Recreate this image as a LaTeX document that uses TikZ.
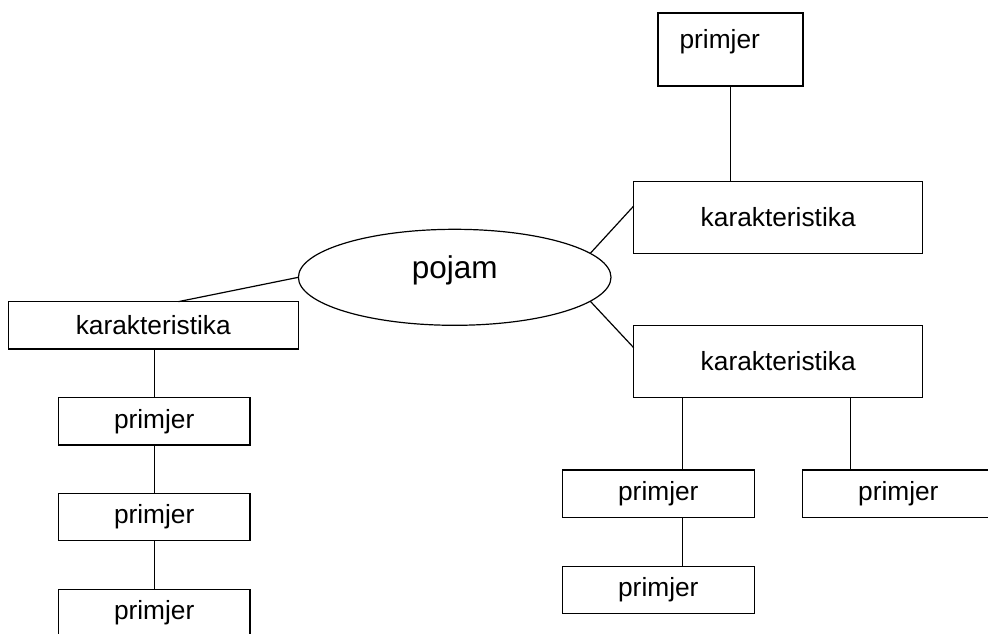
\documentclass[tikz,border=0pt]{standalone}
\usepackage{fontspec}
\setmainfont{Liberation Sans}
\usetikzlibrary{shapes.geometric}
\begin{document}
\begin{tikzpicture}[x=1pt,y=-1pt,line width=1.2pt,
  box/.style={draw,rectangle,inner sep=0pt,outer sep=0pt,font=\fontsize{26.3}{30}\selectfont},
  kbox/.style={box,minimum width=289pt,minimum height=71.6pt},
  pbox/.style={box,minimum width=192pt,minimum height=47.6pt}]
\useasboundingbox (0,0) rectangle (988,633);
% central ellipse
\node[draw,ellipse,inner sep=0pt,outer sep=0pt,minimum width=312.6pt,minimum height=96pt,
  font=\fontsize{31.5}{36}\selectfont,text height=0.716em,text depth=0.45em] (e) at (454.7,277.3) {pojam};
% right top branch
\node[kbox] (k1) at (778.2,217.5) {karakteristika};
\node[box,minimum width=145pt,minimum height=73pt] (p0) at (730.5,49.5) {};
\node[anchor=base west,inner sep=0pt,font=\fontsize{26.3}{30}\selectfont] (p0t) at (679,48.3) {primjer};
% right lower branch
\node[kbox] (k2) at (778.2,361.5) {karakteristika};
\node[pbox] (r1) at (658.3,493.8) {primjer};
\node[pbox] (r2) at (658.3,590) {primjer};
\node[pbox] (r3) at (898.3,493.8) {primjer};
% left branch
\node[box,minimum width=290pt,minimum height=47.3pt] (k0) at (153.3,325.3) {karakteristika};
\node[pbox,minimum width=191.7pt] (l1) at (154.2,421.2) {primjer};
\node[pbox,minimum width=191.7pt] (l2) at (154.2,517) {primjer};
\node[pbox,minimum width=191.7pt] (l3) at (154.2,613.1) {primjer};
% connectors
\draw (p0.south) -- (p0.south |- k1.north);
\draw (e.10.7) -- ([yshift=11.5pt]k1.west);
\draw (e.-10.5) -- ([yshift=13.8pt]k2.west);
\draw (e.180) -- ([xshift=25pt]k0.north);
\draw (l1.north |- k0.south) -- (l1.north);
\draw (l1.south) -- (l2.north);
\draw (l2.south) -- (l3.north);
\draw ([xshift=24.4pt]r1.north |- k2.south) -- ([xshift=24.4pt]r1.north);
\draw ([xshift=24.4pt]r1.south) -- ([xshift=24.4pt]r2.north);
\draw ([xshift=-47.6pt]r3.north |- k2.south) -- ([xshift=-47.6pt]r3.north);
\end{tikzpicture}
\end{document}
